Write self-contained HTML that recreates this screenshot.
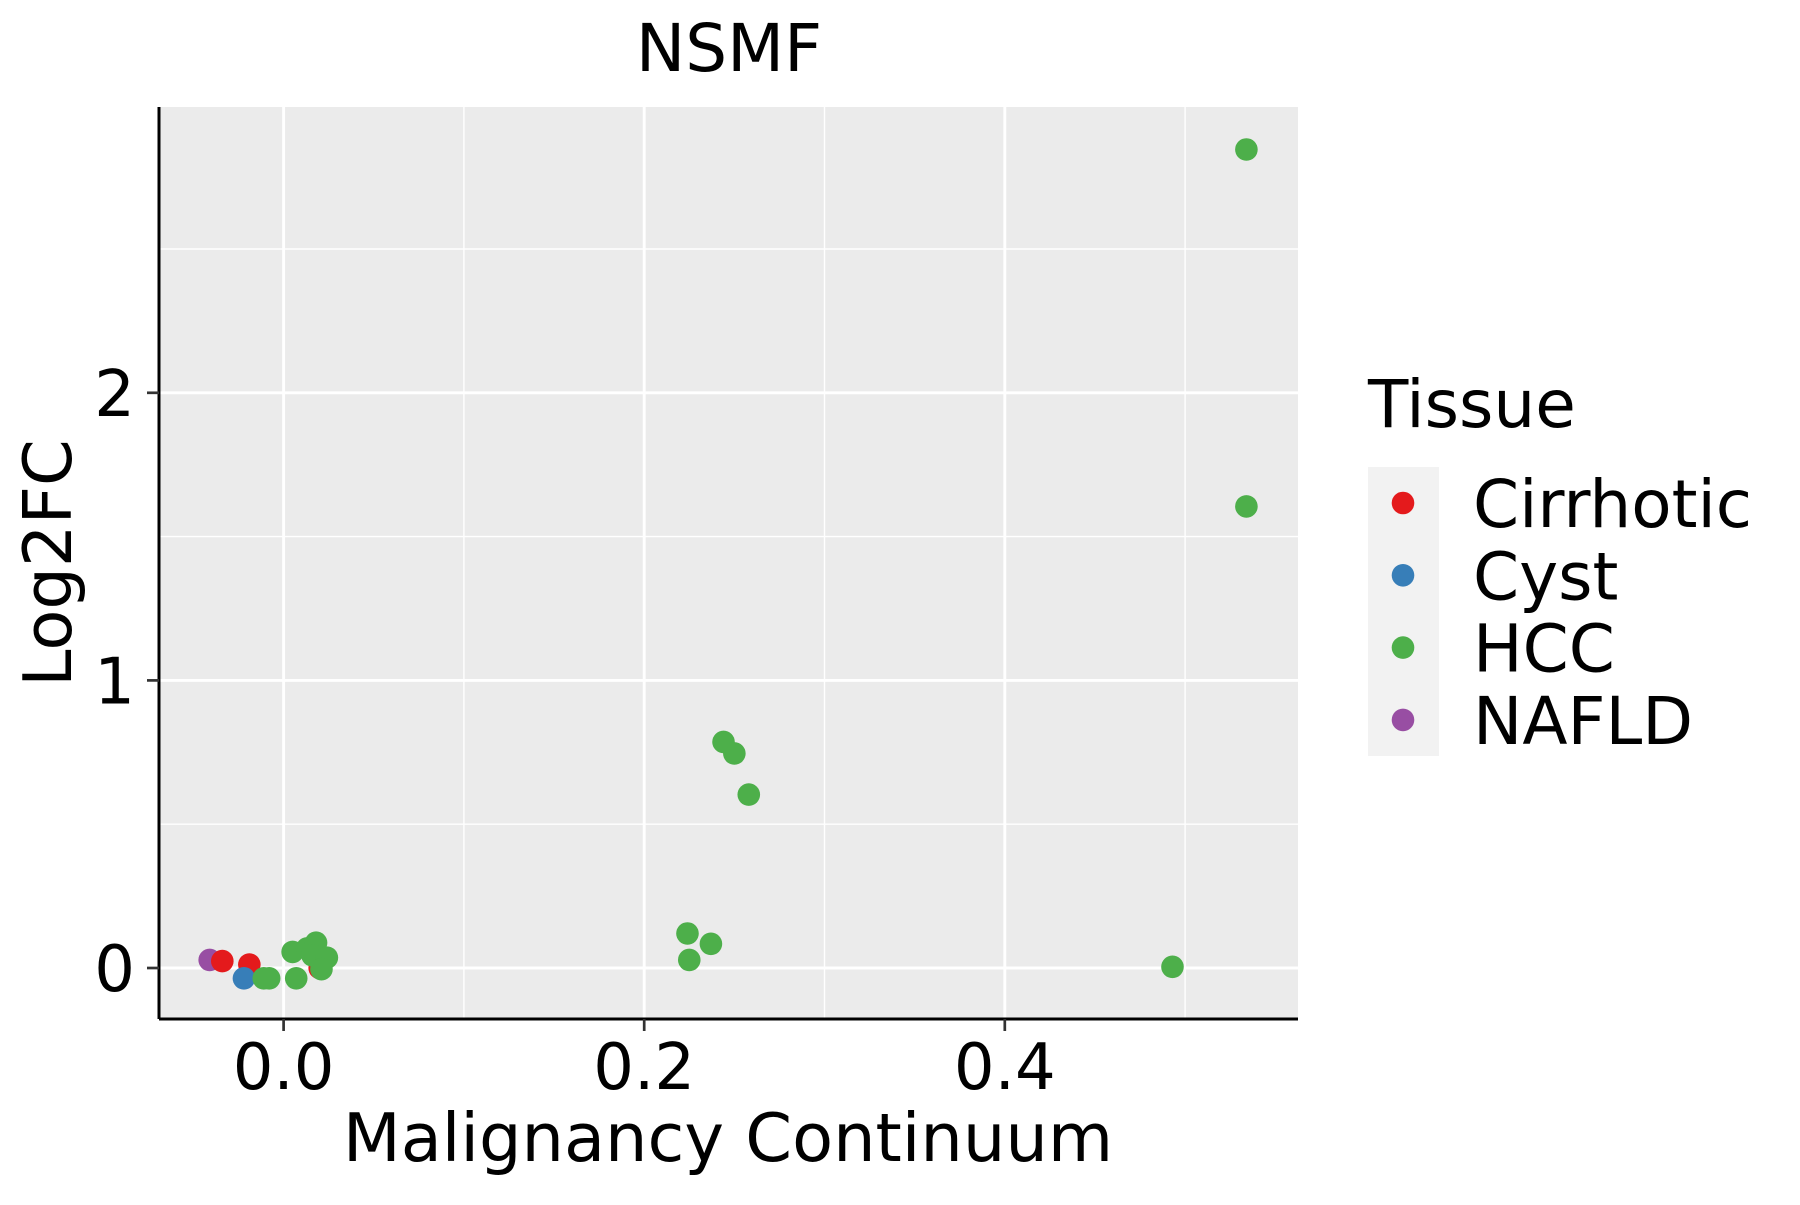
<!DOCTYPE html>
<html><head><meta charset="utf-8"><style>
body{margin:0;background:#fff}
svg text{font-family:"DejaVu Sans","Liberation Sans",sans-serif;fill:#000}
</style></head><body>
<svg id="chart" width="1800" height="1200" viewBox="0 0 1800 1200" xmlns="http://www.w3.org/2000/svg">
<rect x="159" y="107" width="1139" height="912" fill="#ebebeb"/>
<g id="grid"></g>
<g id="points"></g>
<line x1="159" y1="107" x2="159" y2="1019" stroke="#000" stroke-width="3"/>
<line x1="159" y1="1019" x2="1298" y2="1019" stroke="#000" stroke-width="3"/>
<g id="ticks"></g>
<text x="729" y="71" font-size="66" text-anchor="middle">NSMF</text>
<text x="728" y="1161" font-size="67" text-anchor="middle">Malignancy Continuum</text>
<text transform="translate(71,563) rotate(-90)" font-size="67" text-anchor="middle">Log2FC</text>
<g>
<text x="1368" y="427" font-size="66">Tissue</text>
<rect x="1368" y="467" width="71" height="289" fill="#f2f2f2"/>
<g id="legend-items"></g>
</g>
</svg>
<script>
const xTicks=[0.0,0.2,0.4];
const xTickLabels=["0.0","0.2","0.4"];
const yTicks=[0,1,2];
const yTickLabels=["0","1","2"];
const xMinor=[-0.1,0.1,0.3,0.5];
const yMinor=[0.5,1.5,2.5];
const tissues=["Cirrhotic","Cyst","HCC","NAFLD"];
const colors=["#e41a1c","#377eb8","#4daf4a","#984ea3"];
const ptX=[-0.034,-0.019,0.020,-0.022,-0.011,-0.008,0.005,0.007,0.013,0.018,0.016,0.024,0.021,0.224,0.225,0.237,0.244,0.250,0.258,0.493,0.534,0.534,-0.041];
const ptY=[0.024,0.012,0.0,-0.036,-0.036,-0.036,0.056,-0.036,0.068,0.088,0.044,0.036,-0.004,0.12,0.028,0.084,0.786,0.746,0.603,0.004,2.846,1.605,0.028];
const ptGroup=[0,0,0,1,2,2,2,2,2,2,2,2,2,2,2,2,2,2,2,2,2,2,3];
const ptOrder=[22,0,1,2,3,4,5,6,7,8,9,10,11,12,13,14,15,16,17,18,19,20,21];
const NS="http://www.w3.org/2000/svg";
const sx=v=>283.6+v*1803;
const sy=v=>968-v*287.6;
const L=159,R=1298,T=107,B=1019;
function mk(tag,attrs,parent){const e=document.createElementNS(NS,tag);for(const k in attrs)e.setAttribute(k,attrs[k]);parent.appendChild(e);return e;}
const grid=document.getElementById('grid');
xMinor.forEach(v=>{const x=sx(v);if(x<L||x>R)return;const e=mk('line',{x1:x,x2:x,y1:T,y2:B,stroke:'#fff','stroke-width':1.4},grid);

});
yMinor.forEach(v=>{const y=sy(v);const e=mk('line',{x1:L,x2:R,y1:y,y2:y,stroke:'#fff','stroke-width':1.4},grid);

});
xTicks.forEach(v=>{const x=sx(v);const e=mk('line',{x1:x,x2:x,y1:T,y2:B,stroke:'#fff','stroke-width':2.9},grid);

});
yTicks.forEach(v=>{const y=sy(v);const e=mk('line',{x1:L,x2:R,y1:y,y2:y,stroke:'#fff','stroke-width':2.9},grid);

});
const ticks=document.getElementById('ticks');
xTicks.forEach((v,i)=>{const x=sx(v);const t=mk('line',{x1:x,x2:x,y1:B,y2:B+12,stroke:'#333','stroke-width':2.7},ticks);


const l=mk('text',{x:x,y:1089,'font-size':64,'text-anchor':'middle'},ticks);l.textContent=xTickLabels[i];

});
yTicks.forEach((v,i)=>{const y=sy(v);const t=mk('line',{x1:L-12,x2:L,y1:y,y2:y,stroke:'#333','stroke-width':2.7},ticks);


const l=mk('text',{x:135,y:y+23,'font-size':64,'text-anchor':'end'},ticks);l.textContent=yTickLabels[i];

});
const pts=document.getElementById('points');
ptOrder.forEach(i=>{const c=mk('circle',{cx:sx(ptX[i]),cy:sy(ptY[i]),r:11.3,fill:colors[ptGroup[i]]},pts);

});
const leg=document.getElementById('legend-items');
tissues.forEach((t,i)=>{const cy=503+i*72.3;
const c=mk('circle',{cx:1403,cy:cy,r:11.3,fill:colors[i]},leg);


const l=mk('text',{x:1473,y:cy+24,'font-size':66},leg);l.textContent=t;

});
</script>
</body></html>
